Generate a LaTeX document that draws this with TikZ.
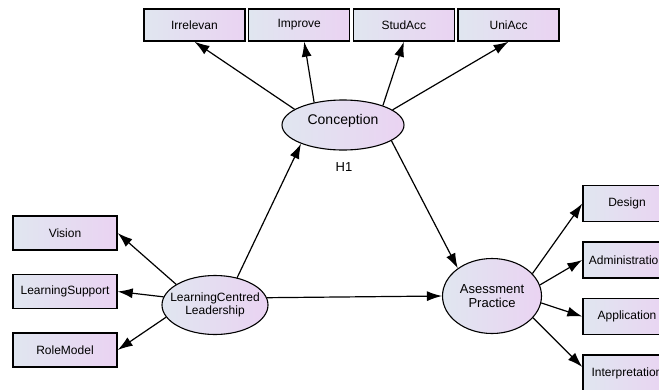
\documentclass[tikz,border=0pt]{standalone}
\usepackage{fontspec}
\setmainfont{Liberation Sans}
\usetikzlibrary{arrows.meta,shapes.geometric}
\definecolor{fillleft}{RGB}{224,230,240}
\definecolor{fillright}{RGB}{234,211,242}

\begin{document}
\begin{tikzpicture}[x=1pt, y=-1pt, node distance={104.7pt},
    obs/.style = {draw, line width=1.4pt, left color=fillleft, right color=fillright, inner sep=0pt, font=\fontsize{12}{13}\selectfont},
    lat/.style = {draw, ellipse, line width=1.1pt, left color=fillleft, right color=fillright, inner sep=0pt},
    lbl/.style = {align=center, inner sep=0pt, font=\fontsize{12}{13}\selectfont},
    arr/.style = {-{Latex[length=15pt,width=10pt]}, line width=1.2pt}]
    \useasboundingbox (0,0) rectangle (659,389);
    \clip (0,0) rectangle (659,389);

    % indicators of Conception
    \begin{scope}[obs/.append style={minimum width=101pt, minimum height=32pt}]
    \node[obs] (irr) at (194.5,25) {Irrelevan};
    \node[obs] (imp) [right of=irr] {Improve};
    \node[obs] (stud) [right of=imp] {StudAcc};
    \node[obs] (uni) [right of=stud] {UniAcc};
    \end{scope}

    % indicators of Leadership
    \begin{scope}[node distance={58.5pt}, obs/.append style={minimum width=104pt, minimum height=34pt}]
    \node[obs] (vis) at (65,233) {Vision};
    \node[obs] (ls) [below of=vis] {LearningSupport};
    \node[obs] (rm) [below of=ls] {RoleModel};
    \end{scope}

    % indicators of Practice
    \begin{scope}[node distance={56.5pt}, obs/.append style={minimum width=88pt, minimum height=36pt}]
    \node[obs] (des) at (627,203.5) {Design};
    \node[obs] (adm) [below of=des] {Administration};
    \node[obs] (app) [below of=adm] {Application};
    \node[obs] (int) [below of=app] {Interpretation};
    \end{scope}

    % latent variables
    \node[lat, minimum width=122pt, minimum height=50pt] (conc) at (343,125) {};
    \node[lbl, font=\fontsize{14}{16}\selectfont] (conctext) at (343,121) {Conception};
    \node[lbl, font=\fontsize{13}{15}\selectfont] (h1) at (344,167) {H1};
    \node[lat, minimum width=106pt, minimum height=59pt] (lc) at (215,305) {};
    \node[lbl] (lctext) at (lc) {LearningCentred\\Leadership};
    \node[lat, minimum width=99pt, minimum height=75pt] (as) at (492,296) {};
    \node[lbl, font=\fontsize{13}{14}\selectfont] (astext) at (as) {Asessment\\Practice};

    \draw[arr] (conc.162) -- (irr.south);
    \draw[arr] (conc.142) -- ([xshift=5pt]imp.south);
    \draw[arr] (conc.26) -- (stud.south);
    \draw[arr] (conc.17) -- (uni.south);

    \draw[arr] (lc.51) -- (conc.204);
    \draw[arr] (conc.342) -- (as.141);
    \draw[arr] (lc.8) -- (as.west);

    \draw[arr] (lc.152) -- (vis.east);
    \draw[arr] (lc.171) -- (ls.east);
    \draw[arr] (lc.194) -- (rm.east);

    \draw[arr] (as.29) -- (des.west);
    \draw[arr] (as.13) -- (adm.west);
    \draw[arr] (as.352) -- (app.west);
    \draw[arr] (as.332) -- ([yshift=6pt]int.west);
  \end{tikzpicture}
\end{document}
